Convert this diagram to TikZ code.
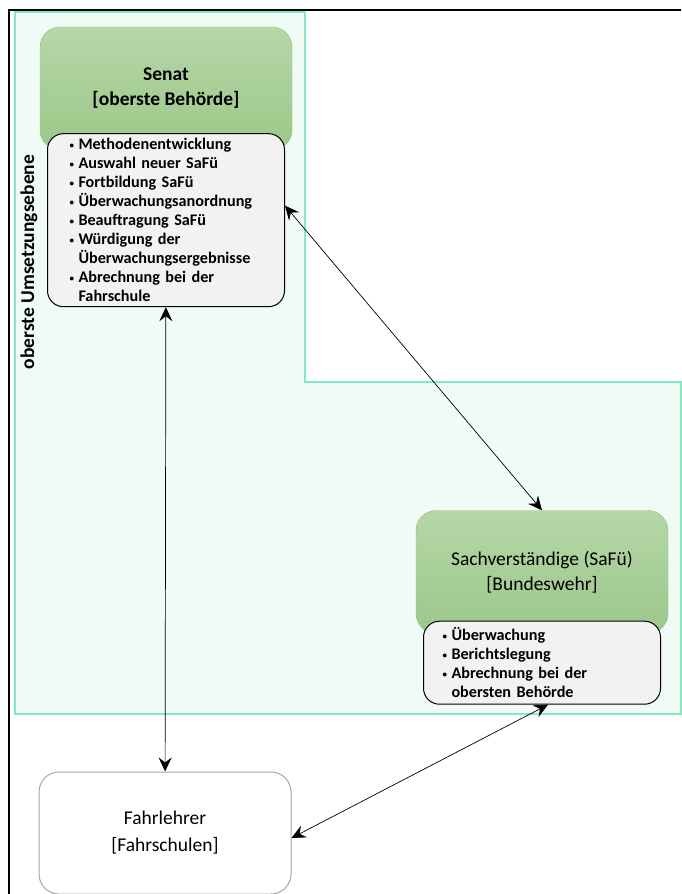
\documentclass[tikz,border=0pt]{standalone}
\usepackage{fontspec}
\setmainfont{Carlito}
\usetikzlibrary{positioning, arrows.meta}
\definecolor{mintline}{HTML}{80EBBE}
\definecolor{mintfill}{HTML}{F1FBF6}
\definecolor{greentop}{HTML}{B6D7A8}
\definecolor{greenbot}{HTML}{9CC789}
\definecolor{greenline}{HTML}{8FC07C}
\tikzset{
    role/.style={draw=greenline, rounded corners=20pt, top color=greentop, bottom color=greenbot,
        minimum width=252pt, minimum height=123pt, align=center, font=\fontsize{19.5}{25}\selectfont},
    tasks/.style={draw, line width=1pt, rounded corners=16pt, fill=gray!10, align=left,
        minimum width=237pt, inner ysep=1pt, font=\bfseries\fontsize{16.2}{19}\selectfont},
    plain/.style={draw=gray!70, line width=1pt, rounded corners=20pt, fill=white,
        minimum width=252pt, minimum height=122pt, align=center, font=\fontsize{19.5}{27}\selectfont},
    level/.style={rotate=90, font=\bfseries\fontsize{19.5}{22}\selectfont},
    link/.style={{Stealth[length=14pt,width=13pt,inset=5pt]}-{Stealth[length=14pt,width=13pt,inset=5pt]}, line width=0.7pt} }
\newcommand{\itm}[1]{\makebox[9pt][l]{\raisebox{1pt}{\fontsize{9}{9}\selectfont\textbullet}}#1}
\newcommand{\cont}[1]{\hspace*{9pt}#1}

\begin{document}
\begin{tikzpicture}[x=1pt, y=-1pt]
    \useasboundingbox (0,0) rectangle (681,894);
    % frame and level
    \draw[line width=2pt] (8.5,894) -- (8.5,9.5) -- (681,9.5);
    \draw[mintline, fill=mintfill, line width=1.2pt] (15,12) -- (305,12) -- (305,382) -- (681,382) -- (681,714) -- (15,714) -- cycle;
    \node[level] (lvl) at (29,262) {oberste Umsetzungsebene};
    % ----
    \node[role, font=\bfseries\fontsize{19.5}{25}\selectfont] (senat) at (166,88.5) {Senat\\{[}oberste Behörde{]}};
    \node[tasks, below=-17pt of senat, minimum height=173pt, text width=193pt, inner xsep=22pt] (senatlist) {%
        \itm{Methodenentwicklung}\\
        \itm{Auswahl neuer SaFü}\\
        \itm{Fortbildung SaFü}\\
        \itm{Überwachungsanordnung}\\
        \itm{Beauftragung SaFü}\\
        \itm{Würdigung der}\\
        \cont{Überwachungsergebnisse}\\
        \itm{Abrechnung bei der}\\
        \cont{Fahrschule}};
    \node[role] (safu) at (542,572) {Sachverständige (SaFü)\\{[}Bundeswehr{]}};
    \node[tasks, below=-13pt of safu, minimum height=83pt, text width=199pt, inner xsep=19pt] (safulist) {%
        \itm{Überwachung}\\
        \itm{Berichtslegung}\\
        \itm{Abrechnung bei der}\\
        \cont{obersten Behörde}};
    \node[plain] (fahr) at (165,833) {Fahrlehrer\\{[}Fahrschulen{]}};
    % ----
    \draw[link] (senatlist) -- (fahr);
    \draw[link] ([yshift=14.5pt]senatlist.east) -- (safu.north);
    \draw[link] ([yshift=-5pt]fahr.east) -- ([xshift=6pt]safulist.south);
\end{tikzpicture}
\end{document}
